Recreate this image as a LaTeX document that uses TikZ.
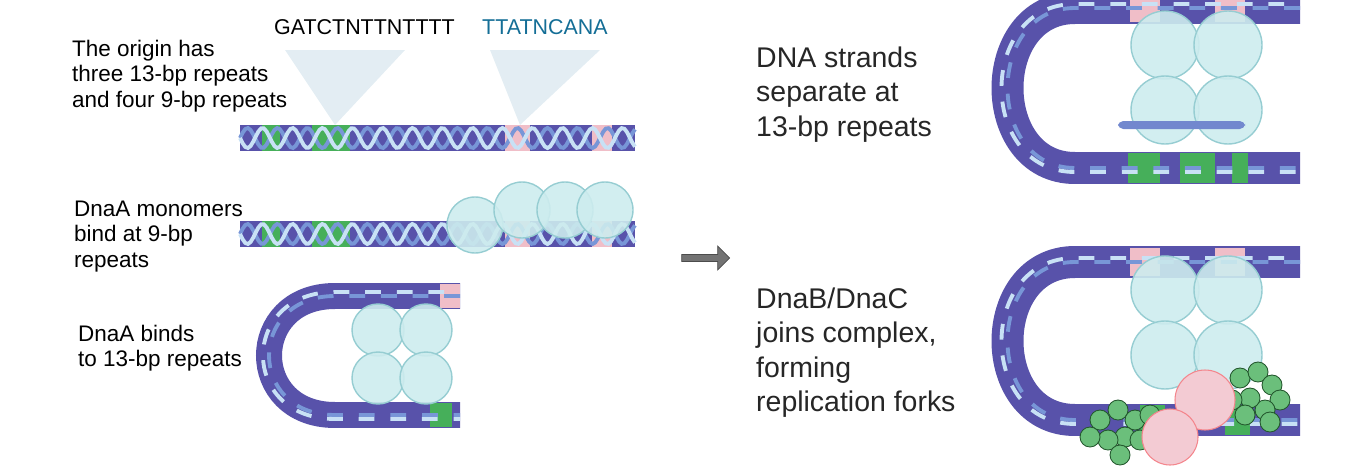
\documentclass[tikz,border=0pt]{standalone}
\usepackage{fontspec}
\setmainfont{Liberation Sans}
\usetikzlibrary{shapes.arrows}
\definecolor{dbase}{RGB}{88,82,170}
\definecolor{sA}{RGB}{200,225,245}
\definecolor{sB}{RGB}{120,150,215}
\definecolor{dgreen}{RGB}{70,175,90}
\definecolor{dpink}{RGB}{240,190,200}
\definecolor{ball}{RGB}{205,236,238}
\definecolor{balld}{RGB}{150,205,210}
\definecolor{teal}{RGB}{20,110,150}
\definecolor{cone}{RGB}{215,230,238}
\tikzset{
 lbl/.style={anchor=north west,align=left,font=\fontsize{12.8pt}{14.4pt}\selectfont},
 rlbl/.style={anchor=north west,align=left,font=\fontsize{16.2pt}{19.4pt}\selectfont,text=black!85},
 strandA/.style={sA,line width=2.2pt},
 strandB/.style={sB,line width=2.2pt},
 sph/.style={fill=ball,draw=balld,line width=0.8pt,fill opacity=0.9},
 pk/.style={fill=dpink!80!white,draw=dpink!70!red,line width=0.6pt},
 gb/.style={fill=dgreen!80,draw=dgreen!50!black,line width=0.5pt},
}
\newcommand\dnabase[3]{\fill[dbase] (#1,#3-13) rectangle (#2,#3+13);}
\newcommand\dnastr[3]{%
 \draw[strandB,domain=#1:#2,samples=150] plot (\x,{#3-10*sin(12*\x)});
 \draw[strandA,domain=#1:#2,samples=150] plot (\x,{#3+10*sin(12*\x)});}
\newcommand\hairbase[6]{\draw[dbase,line width=#5*0.569pt] (#1,#3) -- (#2,#3) .. controls (#2-#6,#3) and (#2-#6,#4) .. (#2,#4) -- (#1,#4);}
\newcommand\hairstr[6]{%
 \draw[sB,line width=2.2pt,dash pattern=on 9pt off 9pt] (#1,#3) -- (#2,#3) .. controls (#2-#6,#3) and (#2-#6,#4) .. (#2,#4) -- (#1,#4);
 \draw[sA,line width=2.2pt,dash pattern=on 9pt off 9pt,dash phase=9pt] (#1,#3-4) -- (#2,#3-4) .. controls (#2-#6-8,#3-4) and (#2-#6-8,#4+4) .. (#2,#4+4) -- (#1,#4+4);}
\begin{document}
\begin{tikzpicture}[x=0.02cm,y=-0.02cm]
\useasboundingbox (0,0) rectangle (1360,470);
\fill[cone,opacity=0.7] (285,50) -- (405,50) -- (335,125) -- cycle;
\fill[cone,opacity=0.7] (490,50) -- (600,50) -- (520,125) -- cycle;
\node[font=\fontsize{12.2pt}{14pt}\selectfont,anchor=west] (seq1) at (268,27) {GATCTNTTNTTTT};
\node[font=\fontsize{12.2pt}{14pt}\selectfont,anchor=west,text=teal] (seq2) at (476,27) {TTATNCANA};
\node[lbl] (t1) at (66,34) {The origin has\\three 13-bp repeats\\and four 9-bp repeats};
\node[lbl] (t2) at (68,195) {DnaA monomers\\bind at 9-bp\\repeats};
\node[lbl] (t3) at (72,319) {DnaA binds\\to 13-bp repeats};
\node[rlbl] (t4) at (750,41) {DNA strands\\separate at\\13-bp repeats};
\node[rlbl] (t5) at (750,282) {DnaB/DnaC\\joins complex,\\forming\\replication forks};
% DNA 1
\dnabase{240}{635}{138}
\fill[dgreen] (262,125) rectangle (280,151); \fill[dgreen] (312,125) rectangle (350,151);
\fill[dpink] (505,125) rectangle (530,151); \fill[dpink] (592,125) rectangle (612,151);
\dnastr{240}{635}{138}
% DNA 2
\dnabase{240}{635}{234}
\fill[dgreen] (262,221) rectangle (280,247); \fill[dgreen] (312,221) rectangle (350,247);
\fill[dpink] (505,221) rectangle (530,247); \fill[dpink] (592,221) rectangle (612,247);
\dnastr{240}{635}{234}
\draw[sph] (475,225) circle (28);
\draw[sph] (522,210) circle (28);
\draw[sph] (565,210) circle (28);
\draw[sph] (605,210) circle (28);
% hairpin left
\hairbase{460}{335}{296}{415}{26}{88}
\fill[dpink] (440,284) rectangle (460,308);
\fill[dgreen] (430,403) rectangle (452,427);
\hairstr{460}{335}{296}{415}{26}{88}
\draw[sph] (378,330) circle (26); \draw[sph] (426,330) circle (26);
\draw[sph] (378,378) circle (26); \draw[sph] (426,378) circle (26);
% arrow
\node[single arrow,fill=black!55,draw=black!70,minimum height=48*0.02cm,minimum width=24*0.02cm,single arrow head extend=3pt,inner sep=1pt] (arr) at (704,258) {};
% right top
\hairbase{1300}{1075}{8}{168}{32}{90}
\fill[dgreen] (1128,153) rectangle (1160,183); \fill[dgreen] (1180,153) rectangle (1215,183); \fill[dgreen] (1232,153) rectangle (1248,183);
\fill[dpink] (1130,-6) rectangle (1160,22); \fill[dpink] (1215,-6) rectangle (1245,22);
\hairstr{1300}{1075}{8}{168}{32}{90}
\draw[sph] (1165,45) circle (34); \draw[sph] (1228,45) circle (34);
\draw[sph] (1165,110) circle (34); \draw[sph] (1228,110) circle (34);
\fill[sB!80!dbase,rounded corners=3pt] (1118,121) rectangle (1245,129);
% right bottom
\hairbase{1300}{1075}{262}{420}{32}{90}
\fill[dpink] (1130,248) rectangle (1160,276); \fill[dpink] (1215,248) rectangle (1245,276);
\fill[dgreen] (1140,405) rectangle (1165,435); \fill[dgreen] (1225,405) rectangle (1250,435);
\hairstr{1300}{1075}{262}{420}{32}{90}
\draw[sph] (1165,290) circle (34); \draw[sph] (1228,290) circle (34);
\draw[sph] (1165,355) circle (34); \draw[sph] (1228,355) circle (34);
\foreach \p in {(1100,420),(1118,410),(1135,420),(1125,437),(1108,440),(1120,455),(1140,440),(1150,415),(1090,437)}
  \draw[gb] \p circle (10);
\foreach \p in {(1240,378),(1258,372),(1272,385),(1280,400),(1265,410),(1250,398),(1245,415),(1270,422),(1232,400)}
  \draw[gb] \p circle (10);
\draw[pk] (1205,400) circle (30);
\draw[pk] (1170,437) circle (28);
\end{tikzpicture}
\end{document}
